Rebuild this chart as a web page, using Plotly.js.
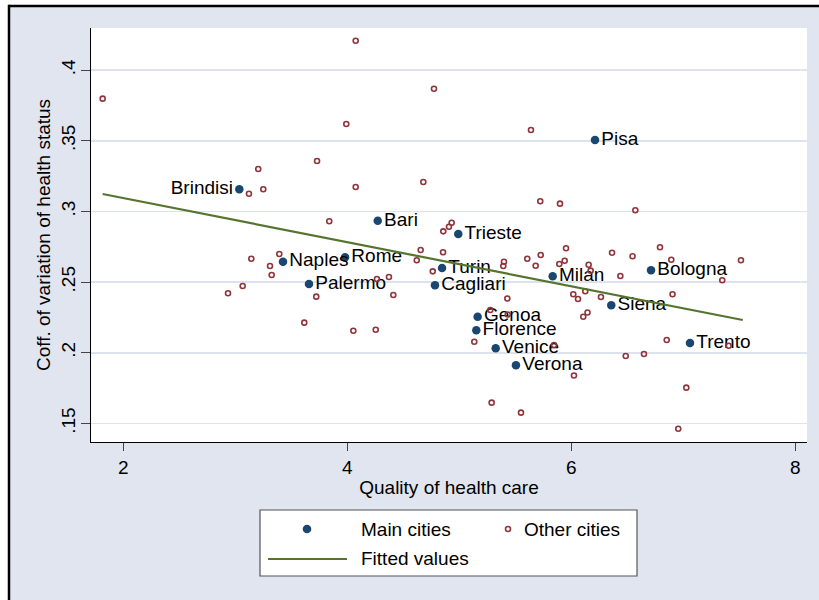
<!DOCTYPE html>
<html>
<head>
<meta charset="utf-8">
<script src="https://cdn.plot.ly/plotly-3.0.1.min.js"></script>
<style>html,body{margin:0;padding:0;background:#fff;overflow:hidden;}#chart{width:819px;height:600px;}</style>
</head>
<body>
<div id="chart"></div>
<script>
// Main cities
const mainNames = ["Brindisi","Pisa","Naples","Bari","Rome","Palermo","Trieste","Turin","Cagliari","Milan","Genoa","Florence","Venice","Verona","Bologna","Siena","Trento"];
const mainQuality = [3.035,6.211,3.425,4.271,3.979,3.657,4.990,4.845,4.782,5.833,5.163,5.151,5.324,5.505,6.711,6.356,7.059];
const mainCoefVar = [0.3157,0.3505,0.2644,0.2934,0.2675,0.2486,0.2840,0.2600,0.2477,0.2541,0.2255,0.2159,0.2031,0.1911,0.2583,0.2336,0.2069];

// Other cities
const otherQuality = [1.815,3.204,3.249,3.121,4.074,4.773,3.990,5.639,3.729,4.074,4.678,5.722,5.898,3.838,4.931,4.907,4.856,5.952,4.654,4.854,4.619,5.398,5.392,5.606,5.726,5.681,5.892,5.940,6.154,6.172,4.762,4.264,4.371,3.722,4.410,5.428,6.017,6.059,6.124,6.264,5.276,5.432,6.106,6.144,3.615,4.053,4.253,5.133,5.845,6.023,5.288,5.550,7.026,6.954,6.571,6.363,6.546,6.791,6.892,6.437,7.347,7.514,6.903,6.851,7.404,6.485,6.648,3.142,3.392,3.309,3.324,3.065,2.934];
const otherCoefVar = [0.3798,0.3300,0.3157,0.3125,0.4208,0.3868,0.3619,0.3576,0.3357,0.3173,0.3208,0.3072,0.3055,0.2930,0.2920,0.2892,0.2859,0.2739,0.2727,0.2711,0.2654,0.2644,0.2614,0.2665,0.2692,0.2616,0.2628,0.2651,0.2623,0.2581,0.2576,0.2522,0.2536,0.2397,0.2409,0.2384,0.2414,0.2380,0.2435,0.2394,0.2302,0.2271,0.2255,0.2285,0.2213,0.2156,0.2163,0.2078,0.2055,0.1839,0.1647,0.1576,0.1753,0.1462,0.3008,0.2708,0.2683,0.2746,0.2658,0.2543,0.2513,0.2654,0.2414,0.2090,0.2050,0.1977,0.1991,0.2665,0.2699,0.2614,0.2550,0.2472,0.2421];

// Fitted values (linear fit)
const fitQuality = [1.815, 7.530];
const fitCoefVar = [0.3123, 0.2232];

// Axis ticks
const xTickVals = [2,4,6,8];
const xTickText = ["2","4","6","8"];
const yTickVals = [0.15,0.2,0.25,0.3,0.35,0.4];
const yTickText = [".15",".2",".25",".3",".35",".4"];

// Legend labels
const legendLabels = ["Main cities","Other cities","Fitted values"];

const NAVY = "#1a476f", MAROON = "#90353b", GREEN = "#55752f";
const FONT = "Liberation Sans, Arial, sans-serif";
const FS = 19;

const labelPos = mainNames.map(n => n === "Brindisi" ? "middle left" : "middle right");

const traces = [
  {type:"scatter", mode:"markers+text", x:mainQuality, y:mainCoefVar, text:mainNames,
   textposition:labelPos, textfont:{family:FONT,size:FS,color:"#000"},
   marker:{color:NAVY,size:8.5}, cliponaxis:false, hoverinfo:"skip", showlegend:false},
  {type:"scatter", mode:"markers", x:otherQuality, y:otherCoefVar,
   marker:{symbol:"circle-open",color:MAROON,size:5,line:{width:1.6,color:MAROON}},
   hoverinfo:"skip", showlegend:false},
  {type:"scatter", mode:"lines", x:fitQuality, y:fitCoefVar,
   line:{color:GREEN,width:2.2}, hoverinfo:"skip", showlegend:false}
];

const L = 91, R = 807, T = 28, B = 442, W = 819, H = 600;
const px = v => (v - L) / (R - L);
const py = v => (B - v) / (B - T);

const shapes = [
  {type:"rect", xref:"paper", yref:"paper", layer:"below", x0:px(9), x1:px(819), y0:py(600), y1:py(6),
   fillcolor:"#e0e5ef", line:{width:0}},
  {type:"line", xref:"paper", yref:"paper", layer:"below", x0:px(9), x1:px(819), y0:py(6), y1:py(6),
   line:{color:"#000",width:2.5}},
  {type:"line", xref:"paper", yref:"paper", layer:"below", x0:px(9), x1:px(9), y0:py(4.8), y1:py(600),
   line:{color:"#000",width:2.5}},
  {type:"rect", xref:"paper", yref:"paper", layer:"below", x0:0, x1:1, y0:0, y1:1,
   fillcolor:"#fff", line:{width:0}},
  // legend box
  {type:"rect", xref:"paper", yref:"paper", x0:px(260), x1:px(637), y0:py(576), y1:py(510),
   fillcolor:"#fff", line:{color:"#555",width:1.2}},
  {type:"circle", xref:"paper", yref:"paper", xsizemode:"pixel", ysizemode:"pixel",
   xanchor:px(307), yanchor:py(529), x0:-4.3, x1:4.3, y0:-4.3, y1:4.3, fillcolor:NAVY, line:{width:0}},
  {type:"circle", xref:"paper", yref:"paper", xsizemode:"pixel", ysizemode:"pixel",
   xanchor:px(508), yanchor:py(529), x0:-2.5, x1:2.5, y0:-2.5, y1:2.5, fillcolor:"#fff", line:{color:MAROON,width:1.6}},
  {type:"line", xref:"paper", yref:"paper", x0:px(268), x1:px(347), y0:py(559), y1:py(559),
   line:{color:GREEN,width:2}}
];

const annotations = [
  {xref:"paper", yref:"paper", x:px(359), y:py(529), xanchor:"left", yanchor:"middle", showarrow:false,
   text:legendLabels[0], font:{family:FONT,size:FS,color:"#000"}},
  {xref:"paper", yref:"paper", x:px(522), y:py(529), xanchor:"left", yanchor:"middle", showarrow:false,
   text:legendLabels[1], font:{family:FONT,size:FS,color:"#000"}},
  {xref:"paper", yref:"paper", x:px(359), y:py(558), xanchor:"left", yanchor:"middle", showarrow:false,
   text:legendLabels[2], font:{family:FONT,size:FS,color:"#000"}}
];

const layout = {
  width:W, height:H,
  margin:{l:L, r:W-R, t:T, b:H-B, pad:0},
  paper_bgcolor:"#fff", plot_bgcolor:"#fff",
  font:{family:FONT,size:FS,color:"#000"},
  showlegend:false,
  xaxis:{range:[1.7107,8.1036], tickvals:xTickVals, ticktext:xTickText, ticks:"outside", ticklen:8,
         tickcolor:"#444", tickwidth:1, showgrid:false, zeroline:false, showline:true, linecolor:"#000", linewidth:1,
         tickfont:{family:FONT,size:FS,color:"#000"},
         title:{text:"Quality of health care", font:{family:FONT,size:FS,color:"#000"}, standoff:3}},
  yaxis:{range:[0.13684,0.42979], tickvals:yTickVals, ticktext:yTickText, ticks:"outside", ticklen:9,
         tickcolor:"#444", tickwidth:1, tickangle:-90, ticklabelstandoff:-2, showgrid:true, gridcolor:"#dde3ee", gridwidth:1.6,
         zeroline:false, showline:true, linecolor:"#000", linewidth:1,
         tickfont:{family:FONT,size:FS,color:"#000"},
         title:{text:"Coff. of variation of health status", font:{family:FONT,size:FS,color:"#000"}, standoff:2}},
  shapes:shapes,
  annotations:annotations,
  hovermode:false
};

Plotly.newPlot("chart", traces, layout, {displayModeBar:false, staticPlot:true});
</script>
</body>
</html>
